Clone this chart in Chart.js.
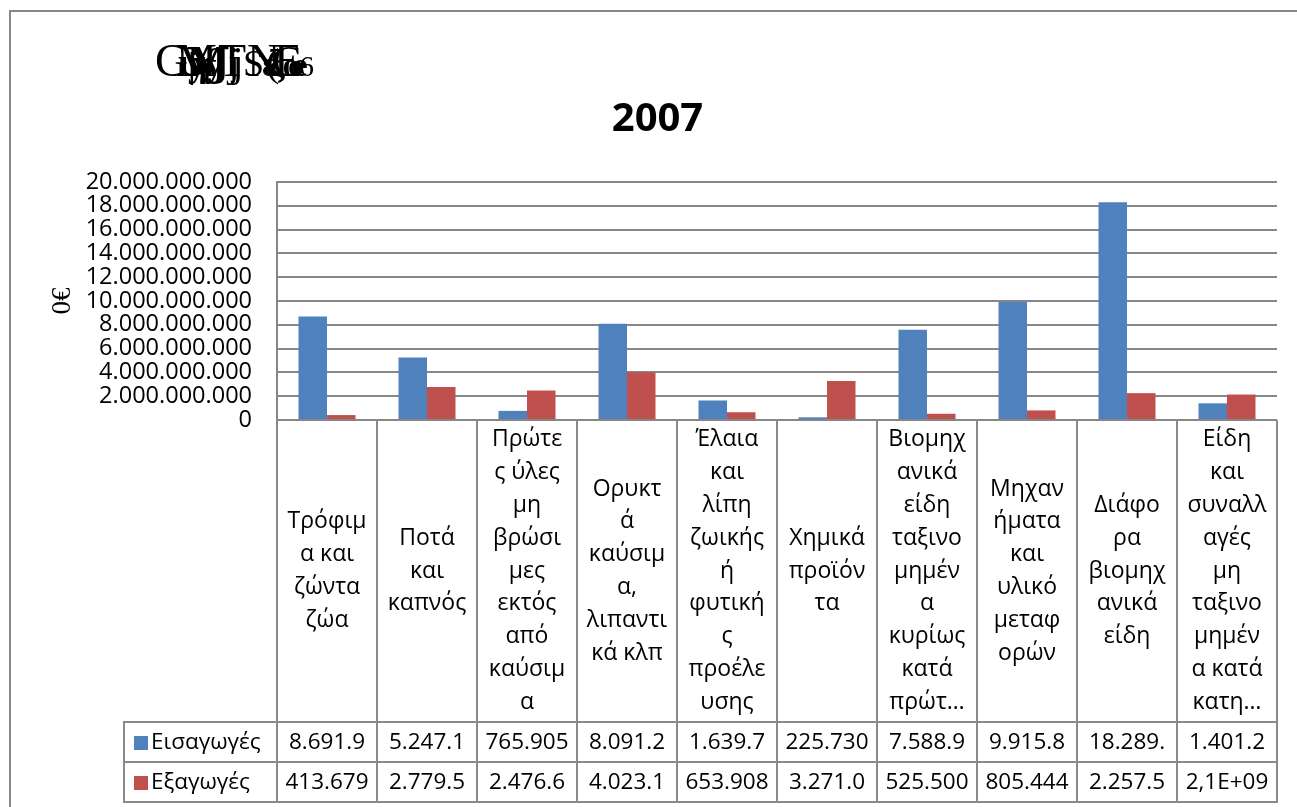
<!DOCTYPE html>
<html>
<head>
<meta charset="utf-8">
<script src="https://cdn.jsdelivr.net/npm/chart.js@4"></script>
<style>
  html, body { margin: 0; padding: 0; background: #ffffff; }
  canvas { display: block; }
</style>
</head>
<body>
<canvas id="c" width="1297" height="807"></canvas>
<script>
// ---------------- DATA ----------------
const chartTitle = '2007';
const yAxisTitle = '0€';
const seriesNames = ['Εισαγωγές', 'Εξαγωγές'];

const categories = [
  ['Τρόφιμ', 'α και', 'ζώντα', 'ζώα'],
  ['Ποτά', 'και', 'καπνός'],
  ['Πρώτε', 'ς ύλες', 'μη', 'βρώσι', 'μες', 'εκτός', 'από', 'καύσιμ', 'α'],
  ['Ορυκτ', 'ά', 'καύσιμ', 'α,', 'λιπαντι', 'κά κλπ'],
  ['Έλαια', 'και', 'λίπη', 'ζωικής', 'ή', 'φυτική', 'ς', 'προέλε', 'υσης'],
  ['Χημικά', 'προϊόν', 'τα'],
  ['Βιομηχ', 'ανικά', 'είδη', 'ταξινο', 'μημέν', 'α', 'κυρίως', 'κατά', 'πρώτ…'],
  ['Μηχαν', 'ήματα', 'και', 'υλικό', 'μεταφ', 'ορών'],
  ['Διάφο', 'ρα', 'βιομηχ', 'ανικά', 'είδη'],
  ['Είδη', 'και', 'συναλλ', 'αγές', 'μη', 'ταξινο', 'μημέν', 'α κατά', 'κατη…']
];

const importsValues = [8691900000, 5247100000, 765905000, 8091200000, 1639700000,
                       225730000, 7588900000, 9915800000, 18289000000, 1401200000];
const exportsValues = [413679000, 2779500000, 2476600000, 4023100000, 653908000,
                       3271000000, 525500000, 805444000, 2257500000, 2140000000];

const importsTableLabels = ['8.691.9', '5.247.1', '765.905', '8.091.2', '1.639.7',
                            '225.730', '7.588.9', '9.915.8', '18.289.', '1.401.2'];
const exportsTableLabels = ['413.679', '2.779.5', '2.476.6', '4.023.1', '653.908',
                            '3.271.0', '525.500', '805.444', '2.257.5', '2,1E+09'];

const yMin = 0, yMax = 20000000000, yStep = 2000000000;

// ---------------- STYLE ----------------
const BLUE = '#4F81BD';
const RED = '#C0504D';
const LINE = '#8a8a8a';
const FONT = '"Open Sans", "Noto Sans", sans-serif';

function fmt(v) {
  return String(Math.round(v)).replace(/\B(?=(\d{3})+(?!\d))/g, '.');
}

const tablePlugin = {
  id: 'tablePlugin',
  afterDraw(chart) {
    const ctx = chart.ctx;
    const xs = chart.scales.x;
    const area = chart.chartArea;
    const n = categories.length;
    const half = (xs.getPixelForValue(1) - xs.getPixelForValue(0)) / 2;
    const bounds = [];
    for (let i = 0; i < n; i++) bounds.push(xs.getPixelForValue(i) - half);
    bounds.push(xs.getPixelForValue(n - 1) + half);

    const cellTop = area.bottom;
    const row1 = 722, row2 = 762, row3 = 802;
    const legendLeft = 124;

    ctx.save();
    // outer frame
    ctx.strokeStyle = '#878787';
    ctx.lineWidth = 2;
    ctx.beginPath();
    ctx.moveTo(10, 807); ctx.lineTo(10, 11); ctx.lineTo(1297, 11);
    ctx.stroke();

    // table lines
    ctx.strokeStyle = LINE;
    ctx.lineWidth = 2;
    ctx.beginPath();
    bounds.forEach(b => { ctx.moveTo(Math.round(b), cellTop); ctx.lineTo(Math.round(b), row3); });
    ctx.moveTo(legendLeft, row1); ctx.lineTo(legendLeft, row3);
    [row1, row2, row3].forEach(y => { ctx.moveTo(legendLeft - 1, y); ctx.lineTo(Math.round(bounds[n]) + 1, y); });
    ctx.stroke();

    // category labels
    ctx.fillStyle = '#000';
    ctx.font = '23px ' + FONT;
    ctx.textAlign = 'center';
    ctx.textBaseline = 'middle';
    const lh = 32.8;
    const cy = (cellTop + row1) / 2;
    categories.forEach((lines, i) => {
      const cx = xs.getPixelForValue(i);
      const y0 = cy - (lines.length - 1) / 2 * lh;
      lines.forEach((t, k) => ctx.fillText(t, cx, y0 + k * lh));
    });

    // values
    ctx.font = '22.5px ' + FONT;
    const r1c = (row1 + row2) / 2 + 1, r2c = (row2 + row3) / 2 + 1;
    for (let i = 0; i < n; i++) {
      const cx = xs.getPixelForValue(i);
      ctx.fillText(importsTableLabels[i], cx, r1c);
      ctx.fillText(exportsTableLabels[i], cx, r2c);
    }

    // legend keys
    ctx.fillStyle = BLUE; ctx.fillRect(134, r1c - 7, 14, 14);
    ctx.fillStyle = RED;  ctx.fillRect(134, r2c - 7, 14, 14);
    ctx.fillStyle = '#000';
    ctx.textAlign = 'left';
    ctx.fillText(seriesNames[0], 151, r1c);
    ctx.fillText(seriesNames[1], 151, r2c);

    // garbled heading (overlapping glyphs)
    ctx.textBaseline = 'alphabetic';
    ctx.fillStyle = '#000';
    const serif = '"Liberation Serif", "DejaVu Serif", serif';
    const glyphs = [
      ['G', 155, 46, ''], ['M', 176, 46, ''], ['Ɱ', 186, 40, 'bold '], ['T', 218, 46, ''],
      ['N', 247, 46, ''], ['E', 274, 46, ''], ['C', 272, 44, ''],
      ['ψ', 178, 40, 'bold '], ['γ', 194, 38, 'bold '], ['ƒ', 200, 42, ''], ['y', 205, 36, 'bold '],
      ['ŷ', 188, 36, 'bold '], ['j', 228, 42, ''], ['j', 232, 42, ''], ['S', 243, 38, ''],
      ['(', 266, 40, ''], ['ξ', 268, 38, 'bold '], ['ε', 262, 36, 'bold '],
      ['œ', 283, 34, 'bold '], ['6', 299, 30, ''], ['o', 288, 32, 'bold ']
    ];
    glyphs.forEach(([t, x, s, w]) => {
      ctx.font = w + s + 'px ' + serif;
      ctx.fillText(t, x, 76);
    });
    ctx.restore();
  }
};

new Chart(document.getElementById('c'), {
  type: 'bar',
  data: {
    labels: categories.map(c => c.join(' ')),
    datasets: [
      { label: seriesNames[0], data: importsValues, backgroundColor: BLUE, borderWidth: 0,
        categoryPercentage: 0.57, barPercentage: 1.0 },
      { label: seriesNames[1], data: exportsValues, backgroundColor: RED, borderWidth: 0,
        categoryPercentage: 0.57, barPercentage: 1.0 }
    ]
  },
  options: {
    responsive: false,
    animation: false,
    layout: { padding: { left: 38, right: 20, top: 0, bottom: 387 } },
    plugins: {
      legend: { display: false },
      tooltip: { enabled: false },
      title: {
        display: true, text: chartTitle, color: '#000',
        font: { family: FONT, size: 40, weight: 'bold', lineHeight: 1.2 },
        padding: { top: 96, bottom: 38 }
      }
    },
    scales: {
      x: { display: false },
      y: {
        min: yMin, max: yMax,
        afterFit(s) { s.width = 239; },
        ticks: {
          stepSize: yStep, color: '#000', padding: 25,
          autoSkip: false, maxTicksLimit: 11,
          font: { family: FONT, size: 23.5, lineHeight: 0.9 },
          callback: v => fmt(v)
        },
        grid: { color: '#878787', lineWidth: 2, drawTicks: false },
        border: { display: true, color: '#878787', width: 2 },
        title: {
          display: true, text: yAxisTitle, color: '#000',
          font: { family: '"Liberation Serif", serif', size: 27, lineHeight: 1.2 },
          padding: { top: 9, bottom: 0 }
        }
      }
    }
  },
  plugins: [tablePlugin]
});
</script>
</body>
</html>
